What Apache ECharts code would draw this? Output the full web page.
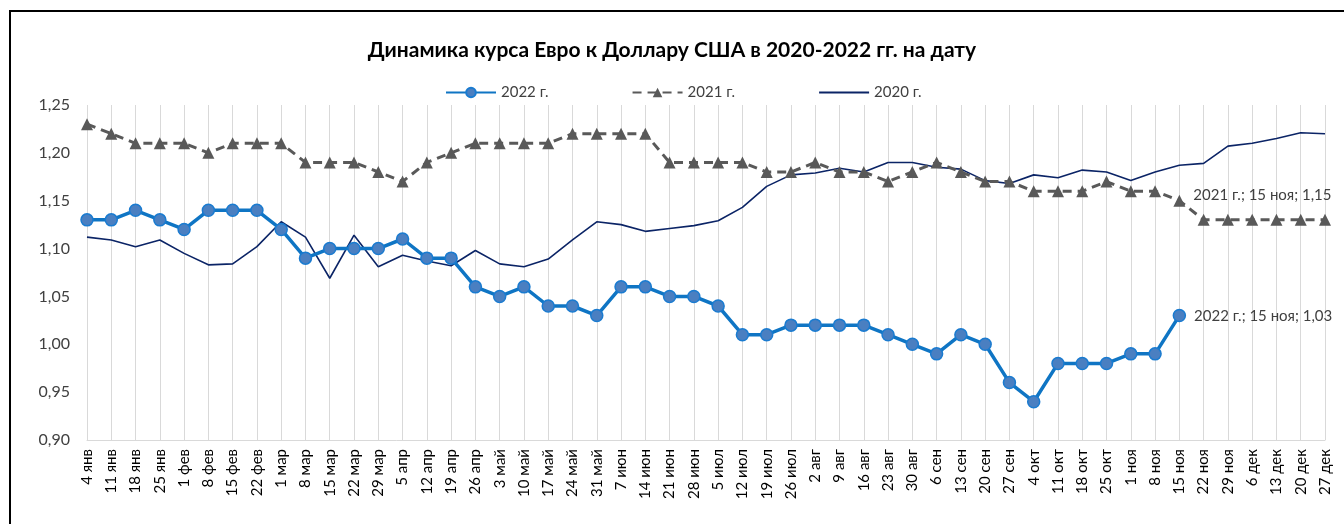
<!DOCTYPE html>
<html>
<head>
<meta charset="utf-8">
<script src="https://cdn.jsdelivr.net/npm/echarts@6/dist/echarts.min.js"></script>
<style>
html,body{margin:0;padding:0;background:#fff;}
#main{width:1344px;height:524px;}
</style>
</head>
<body>
<div id="main"></div>
<script>
// недели (даты)
var dates = ['4 янв','11 янв','18 янв','25 янв','1 фев','8 фев','15 фев','22 фев','1 мар','8 мар','15 мар','22 мар','29 мар','5 апр','12 апр','19 апр','26 апр','3 май','10 май','17 май','24 май','31 май','7 июн','14 июн','21 июн','28 июн','5 июл','12 июл','19 июл','26 июл','2 авг','9 авг','16 авг','23 авг','30 авг','6 сен','13 сен','20 сен','27 сен','4 окт','11 окт','18 окт','25 окт','1 ноя','8 ноя','15 ноя','22 ноя','29 ноя','6 дек','13 дек','20 дек','27 дек'];

var rate2022 = [1.13,1.13,1.14,1.13,1.12,1.14,1.14,1.14,1.12,1.09,1.10,1.10,1.10,1.11,1.09,1.09,1.06,1.05,1.06,1.04,1.04,1.03,1.06,1.06,1.05,1.05,1.04,1.01,1.01,1.02,1.02,1.02,1.02,1.01,1.00,0.99,1.01,1.00,0.96,0.94,0.98,0.98,0.98,0.99,0.99,1.03,null,null,null,null,null,null];

var rate2021 = [1.23,1.22,1.21,1.21,1.21,1.20,1.21,1.21,1.21,1.19,1.19,1.19,1.18,1.17,1.19,1.20,1.21,1.21,1.21,1.21,1.22,1.22,1.22,1.22,1.19,1.19,1.19,1.19,1.18,1.18,1.19,1.18,1.18,1.17,1.18,1.19,1.18,1.17,1.17,1.16,1.16,1.16,1.17,1.16,1.16,1.15,1.13,1.13,1.13,1.13,1.13,1.13];

var rate2020 = [1.112,1.109,1.102,1.109,1.095,1.083,1.084,1.102,1.128,1.112,1.069,1.114,1.081,1.093,1.087,1.082,1.098,1.084,1.081,1.089,1.109,1.128,1.125,1.118,1.121,1.124,1.129,1.143,1.165,1.177,1.179,1.184,1.180,1.190,1.190,1.185,1.183,1.171,1.168,1.177,1.174,1.182,1.180,1.171,1.180,1.187,1.189,1.207,1.210,1.215,1.221,1.220];

var labelIdx = 45; // 15 ноя
var FONT = 'Lato';

function comma(v){ return v.toFixed(2).replace('.', ','); }

function withLabel(arr, name, offY){
    return arr.map(function(v, i){
        if (i !== labelIdx || v == null) return v;
        return {
            value: v,
            label: {
                show: true,
                position: 'right',
                distance: 8,
                offset: [0, offY],
                color: '#404040',
                fontSize: 15,
                fontFamily: FONT,
                formatter: name + '; ' + dates[i] + '; ' + comma(v)
            }
        };
    });
}

var myChart = echarts.init(document.getElementById('main'));

var option = {
    backgroundColor: '#fff',
    animation: false,
    title: {
        text: 'Динамика курса Евро к Доллару США в 2020-2022 гг. на дату',
        left: 'center',
        top: 35,
        textStyle: { fontFamily: FONT, fontSize: 21, fontWeight: 'bold', color: '#000' }
    },
    legend: {
        top: 80,
        left: 440,
        itemWidth: 50,
        itemHeight: 12,
        itemGap: 83,
        textStyle: { fontFamily: FONT, fontSize: 15, color: '#404040' },
        data: ['2022 г.', '2021 г.', { name: '2020 г.', itemStyle: { opacity: 0 } }]
    },
    graphic: [{
        type: 'rect',
        shape: { x: 10, y: 11, width: 1400, height: 600 },
        style: { fill: 'none', stroke: '#000', lineWidth: 2 },
        silent: true
    }],
    grid: { left: 87, right: 19, top: 105, bottom: 84 },
    xAxis: {
        type: 'category',
        data: dates,
        boundaryGap: false,
        axisTick: { show: false },
        axisLine: { lineStyle: { color: '#d9d9d9', width: 1 } },
        splitLine: { show: true, lineStyle: { color: '#d9d9d9', width: 1 } },
        axisLabel: { interval: 0, rotate: 90, margin: 9, fontFamily: FONT, fontSize: 15, color: '#000' }
    },
    yAxis: {
        type: 'value',
        min: 0.9,
        max: 1.25,
        interval: 0.05,
        splitLine: { show: false },
        axisLine: { show: false },
        axisTick: { show: false },
        axisLabel: {
            margin: 17,
            fontFamily: FONT, fontSize: 16, color: '#404040',
            formatter: function(v){ return comma(v); }
        }
    },
    series: [
        {
            name: '2022 г.',
            type: 'line',
            data: withLabel(rate2022, '2022 г.', 1),
            symbol: 'circle',
            symbolSize: 12,
            z: 5,
            lineStyle: { color: '#0f75c4', width: 3.5 },
            itemStyle: { color: '#4a7fc1', borderColor: '#1a7bd0', borderWidth: 1.5 }
        },
        {
            name: '2021 г.',
            type: 'line',
            data: withLabel(rate2021, '2021 г.', -6),
            symbol: 'triangle',
            symbolSize: 12,
            z: 4,
            lineStyle: { color: '#595959', width: 3, type: [9, 6] },
            itemStyle: { color: '#595959' }
        },
        {
            name: '2020 г.',
            type: 'line',
            data: rate2020,
            symbol: 'none',
            z: 3,
            lineStyle: { color: '#0b2466', width: 1.6 },
            itemStyle: { color: '#0b2466' }
        }
    ]
};

myChart.setOption(option);
</script>
</body>
</html>
